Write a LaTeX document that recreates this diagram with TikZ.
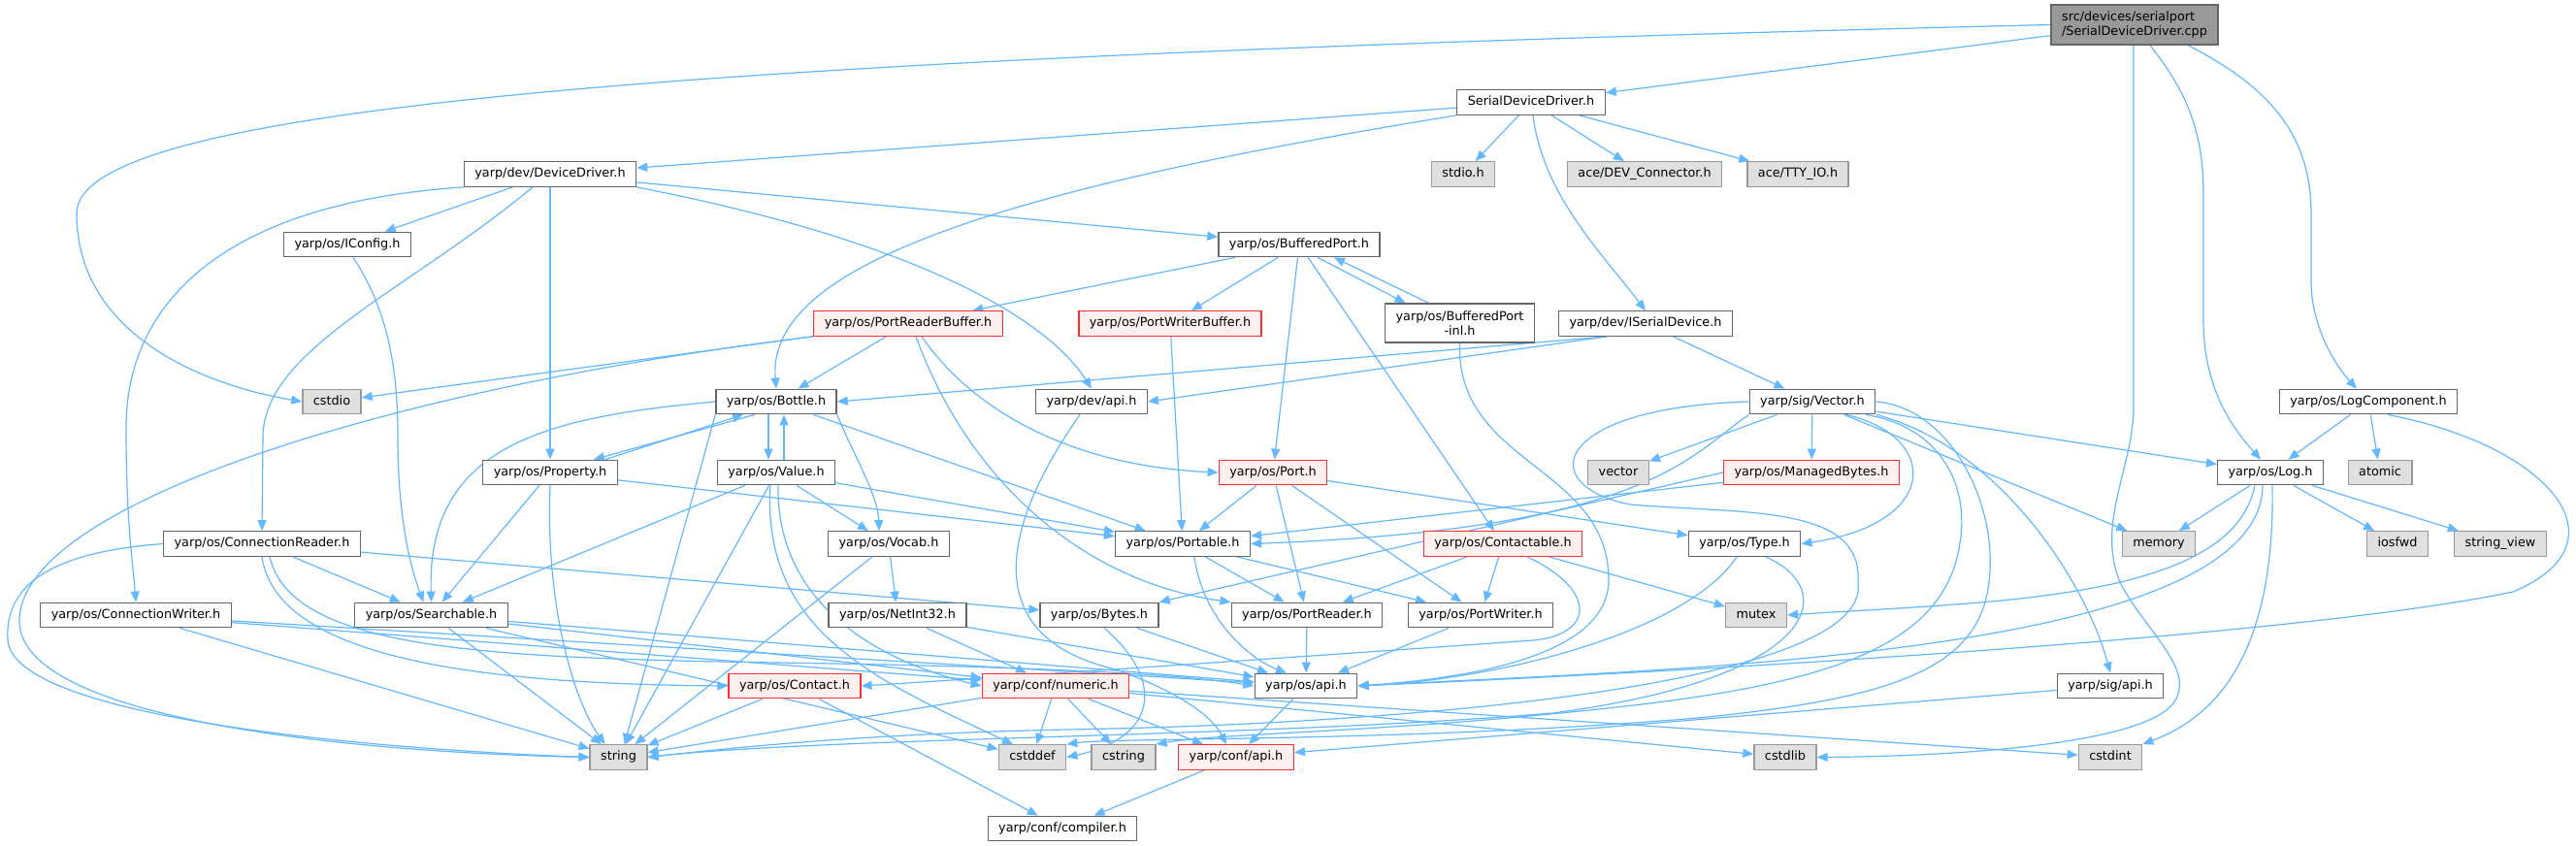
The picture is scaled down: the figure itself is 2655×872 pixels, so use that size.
\documentclass[tikz,border=0pt]{standalone}
\usepackage{fontspec}
\setmainfont{DejaVu Sans}
\usepackage{tikz}
\usetikzlibrary{arrows.meta}
\definecolor{kantenblau}{HTML}{63B8FF}
\definecolor{rahmengrau}{HTML}{666666}
\definecolor{extgrau}{HTML}{999999}
\definecolor{extfuell}{HTML}{E0E0E0}
\definecolor{rotrahmen}{HTML}{FF3030}
\definecolor{rotfuell}{HTML}{FFF0F0}
\pgfdeclarelayer{hinten}
\pgfsetlayers{hinten,main}

\begin{document}
\begin{tikzpicture}[x=1pt, y=-1pt,
    datei/.style={draw=rahmengrau, fill=white, line width=1.3pt, inner xsep=11pt, inner ysep=2pt,
                  minimum height=25.5pt, text height=9.7pt, text depth=3pt},
    systemdatei/.style={datei, draw=extgrau, fill=extfuell},
    abgeschnitten/.style={datei, draw=rotrahmen, fill=rotfuell},
    zweizeilig/.style={text height=, text depth=, minimum height=41pt},
    kante/.style={->, draw=kantenblau, line width=1.2pt},
    >={Triangle[length=11pt,width=9pt]}, %Pfeilspitzen
    font=\fontsize{12.8pt}{15pt}\selectfont]
    \useasboundingbox (0,0) rectangle (2655,872);
    % Knoten
    \node[datei, fill=black!40, zweizeilig, align=left] (cpp) at (2200,25.5) {src/devices/serialport\\/SerialDeviceDriver.cpp};
    \node[datei] (sdd) at (1578,105.5) {SerialDeviceDriver.h};
    \node[datei] (devdrv) at (567,179.5) {yarp/dev/DeviceDriver.h};
    \node[systemdatei] (stdio) at (1508,179.5) {stdio.h};
    \node[systemdatei] (devconn) at (1695,179.5) {ace/DEV\_Connector.h};
    \node[systemdatei] (ttyio) at (1853,179.5) {ace/TTY\_IO.h};
    \node[datei] (iconfig) at (358,252) {yarp/os/IConfig.h};
    \node[datei] (bufport) at (1339,252) {yarp/os/BufferedPort.h};
    \node[abgeschnitten] (prbuf) at (936,333.5) {yarp/os/PortReaderBuffer.h};
    \node[abgeschnitten] (pwbuf) at (1206,333.5) {yarp/os/PortWriterBuffer.h};
    \node[datei, zweizeilig, minimum height=40pt, align=center] (inl) at (1504.5,333) {yarp/os/BufferedPort\\-inl.h};
    \node[datei] (iserial) at (1696,333.5) {yarp/dev/ISerialDevice.h};
    \node[systemdatei] (cstdio) at (342,414) {cstdio};
    \node[datei] (bottle) at (800,414) {yarp/os/Bottle.h};
    \node[datei] (devapi) at (1125,414) {yarp/dev/api.h};
    \node[datei] (vector) at (1868,414) {yarp/sig/Vector.h};
    \node[datei] (logcomp) at (2441,414) {yarp/os/LogComponent.h};
    \node[datei] (property) at (567,487) {yarp/os/Property.h};
    \node[datei] (value) at (800,487) {yarp/os/Value.h};
    \node[abgeschnitten] (port) at (1312,487) {yarp/os/Port.h};
    \node[systemdatei] (stdvector) at (1668,487) {vector};
    \node[abgeschnitten] (mbytes) at (1867,487) {yarp/os/ManagedBytes.h};
    \node[datei] (log) at (2340,487) {yarp/os/Log.h};
    \node[systemdatei] (atomic) at (2453,487) {atomic};
    \node[datei] (connreader) at (270,560.5) {yarp/os/ConnectionReader.h};
    \node[datei] (vocab) at (916,560.5) {yarp/os/Vocab.h};
    \node[datei] (portable) at (1219,560.5) {yarp/os/Portable.h};
    \node[abgeschnitten] (contactable) at (1549,560.5) {yarp/os/Contactable.h};
    \node[datei] (type) at (1798,560.5) {yarp/os/Type.h};
    \node[systemdatei] (memory) at (2225,560.5) {memory};
    \node[systemdatei] (iosfwd) at (2471,560.5) {iosfwd};
    \node[systemdatei] (stringview) at (2577,560.5) {string\_view};
    \node[datei] (connwriter) at (140,634) {yarp/os/ConnectionWriter.h};
    \node[datei] (searchable) at (444.5,634) {yarp/os/Searchable.h};
    \node[datei] (netint) at (925,634) {yarp/os/NetInt32.h};
    \node[datei] (bytes) at (1133,634) {yarp/os/Bytes.h};
    \node[datei] (portreader) at (1347,634) {yarp/os/PortReader.h};
    \node[datei] (portwriter) at (1526,634) {yarp/os/PortWriter.h};
    \node[systemdatei] (mutex) at (1810,634) {mutex};
    \node[abgeschnitten] (contact) at (819,707) {yarp/os/Contact.h};
    \node[abgeschnitten] (numeric) at (1088,707) {yarp/conf/numeric.h};
    \node[datei] (osapi) at (1346,707) {yarp/os/api.h};
    \node[datei] (sigapi) at (2175,707) {yarp/sig/api.h};
    \node[systemdatei] (string) at (637.5,780.5) {string};
    \node[systemdatei] (cstddef) at (1064,780.5) {cstddef};
    \node[systemdatei] (cstring) at (1158,780.5) {cstring};
    \node[abgeschnitten] (confapi) at (1274,780.5) {yarp/conf/api.h};
    \node[systemdatei] (cstdlib) at (1840,780.5) {cstdlib};
    \node[systemdatei] (cstdint) at (2175,780.5) {cstdint};
    \node[datei] (compiler) at (1095,854) {yarp/conf/compiler.h};
    \begin{pgfonlayer}{hinten}
    \fill[white] (0,0) rectangle (2655,872);
    % gerade Kanten
    \foreach \von/\nach in {cpp/sdd, sdd/devdrv, sdd/stdio, sdd/devconn, sdd/ttyio,
        devdrv/iconfig, devdrv/property, devdrv/bufport,
        bufport/prbuf, bufport/pwbuf, bufport/port, bufport/contactable,
        prbuf/cstdio, prbuf/bottle, pwbuf/portable, iserial/vector, bottle/portable,
        property/searchable, property/portable, value/vocab, value/portable, value/searchable, value/string,
        vocab/netint, vocab/string, netint/numeric, netint/osapi,
        portable/portreader, portable/portwriter, port/portable, port/portreader, port/portwriter, port/type,
        mbytes/portable, contactable/portreader, contactable/portwriter, contactable/mutex,
        portreader/osapi, portwriter/osapi, bytes/osapi, connreader/searchable, connreader/bytes,
        connwriter/string, connwriter/numeric, connwriter/osapi,
        searchable/string, searchable/numeric, searchable/osapi, searchable/cstddef,
        contact/string, contact/compiler, numeric/string, numeric/cstddef, numeric/cstring,
        numeric/confapi, numeric/cstdlib, numeric/cstdint, osapi/confapi, confapi/compiler, sigapi/confapi,
        vector/stdvector, vector/mbytes, vector/log, vector/memory,
        logcomp/log, logcomp/atomic, log/memory, log/iosfwd, log/stringview}
        \draw[kante] (\von) -- (\nach);
    % versetzte Kanten
    \draw[kante] ([xshift=19pt]bufport.south) -- ([xshift=-56pt]inl.north);
    \draw[kante] ([xshift=-32pt]inl.north) -- ([xshift=36pt]bufport.south);
    \draw[kante] ([xshift=-22pt]bottle.south) -- ([xshift=45pt]property.north);
    \draw[kante] ([xshift=57pt]property.north) -- ([xshift=-34pt]bottle.south);
    \draw[kante] ([xshift=-8pt]bottle.south) -- ([xshift=-8pt]value.north);
    \draw[kante] ([xshift=8pt]value.north) -- ([xshift=8pt]bottle.south);
    \draw[kante] ([xshift=-40pt]iserial.south) -- (bottle.east);
    \draw[kante] ([xshift=-40pt]iserial.south) -- (devapi.east);
    \draw[kante] (bottle.south west) -- ([xshift=6pt]string.north);
    \draw[kante] (mbytes.west) -- (bytes.north east);
    % gebogene Kanten
    \draw[kante] (cpp.west) .. controls (700,60) and (79,110) .. (79,220) .. controls (79,340) and (200,395) .. (cstdio.west);
    \draw[kante] ([xshift=-1pt]cpp.south) -- (2199,420) .. controls (2199,480) and (2160,540) .. (2185,600)
        .. controls (2210,650) and (2265,690) .. (2240,725) .. controls (2200,775) and (1950,780) .. (cstdlib.east);
    \draw[kante] ([xshift=16pt]cpp.south) .. controls (2250,90) and (2271,130) .. (2271,200) -- (2271,330)
        .. controls (2271,400) and (2300,440) .. ([xshift=-10pt]log.north);
    \draw[kante] ([xshift=55pt]cpp.south) .. controls (2340,90) and (2382,140) .. (2382,220) -- (2382,290)
        .. controls (2382,340) and (2410,380) .. ([xshift=-12pt]logcomp.north);
    \draw[kante] (sdd.south west) .. controls (1000,200) and (790,280) .. (bottle.north);
    \draw[kante] ([xshift=2pt]sdd.south) .. controls (1590,200) and (1650,260) .. (iserial.north);
    \draw[kante] (devdrv.south west) .. controls (220,210) and (130,320) .. (130,440) .. controls (130,540) and (137,580) .. (connwriter.north);
    \draw[kante] ([xshift=-18pt]devdrv.south) .. controls (420,300) and (272,360) .. (271,450) -- (connreader.north);
    \draw[kante] (devdrv.south east) .. controls (950,250) and (1080,330) .. (devapi.north);
    \draw[kante] ([xshift=6pt]iconfig.south) .. controls (400,320) and (410,380) .. (410,450) .. controls (410,540) and (425,590) .. ([xshift=-8pt]searchable.north);
    \draw[kante] (inl.south) .. controls (1500,480) and (1660,480) .. (1658,600) .. controls (1655,680) and (1500,700) .. (osapi.east);
    \draw[kante] (prbuf.south west) .. controls (400,400) and (20,520) .. (20,640) .. controls (20,740) and (350,775) .. (string.west);
    \draw[kante] ([xshift=8pt]prbuf.south) .. controls (1000,500) and (1120,600) .. (portreader.north west);
    \draw[kante] ([xshift=14pt]prbuf.south) .. controls (1000,420) and (1100,480) .. (port.west);
    \draw[kante] ([xshift=-12pt]devapi.south) .. controls (1020,560) and (1020,660) .. (1150,690) .. controls (1220,715) and (1250,740) .. ([xshift=-10pt]confapi.north);
    \draw[kante] (bottle.west) .. controls (560,430) and (440,460) .. (searchable.north);
    \draw[kante] (bottle.south east) .. controls (880,470) and (905,510) .. ([xshift=-10pt]vocab.north);
    \draw[kante] (property.south) .. controls (562,620) and (590,720) .. ([xshift=-14pt]string.north);
    \draw[kante] ([xshift=-6pt]value.south) .. controls (785,650) and (900,700) .. ([xshift=-20pt]cstddef.north);
    \draw[kante] ([xshift=2pt]value.south) .. controls (800,620) and (900,680) .. (numeric.west);
    \draw[kante] (connreader.west) .. controls (40,570) and (5,610) .. (8,660) .. controls (15,740) and (380,772) .. (string.west);
    \draw[kante] (connreader.south) .. controls (285,680) and (500,705) .. (contact.west);
    \draw[kante] ([xshift=8pt]connreader.south) .. controls (300,670) and (500,678) .. (800,683) .. controls (1000,686) and (1200,692) .. (osapi.west);
    \draw[kante] ([xshift=25pt]contactable.south) .. controls (1650,610) and (1640,655) .. (1580,660) .. controls (1300,680) and (1000,700) .. (contact.east);
    \draw[kante] ([xshift=-8pt]type.south) .. controls (1740,650) and (1550,700) .. (osapi.east);
    \draw[kante] ([xshift=22pt]type.south) .. controls (1900,610) and (1870,700) .. (1600,735) .. controls (1300,760) and (850,760) .. (string.east);
    \draw[kante] ([xshift=5pt]bytes.south) .. controls (1200,700) and (1195,760) .. (cstddef.east);
    \draw[kante] ([xshift=12pt]portable.south) .. controls (1240,640) and (1290,680) .. ([xshift=-20pt]osapi.north);
    \draw[kante] (vector.south west) .. controls (1740,470) and (1700,545) .. (portable.east);
    \draw[kante] ([xshift=35pt]vector.south) .. controls (2000,450) and (2000,540) .. (type.east);
    \draw[kante] (vector.south east) .. controls (2060,460) and (2150,600) .. (sigapi.north);
    \draw[kante] (vector.west) .. controls (1600,420) and (1580,500) .. (1680,520) .. controls (1800,530) and (1920,520) .. (1915,600)
        .. controls (1930,700) and (1500,745) .. (1100,752) .. controls (900,756) and (760,770) .. (string.east);
    \draw[kante] ([xshift=55pt]vector.south) .. controls (2000,440) and (2030,500) .. (2020,560) .. controls (2005,660) and (1900,700) .. (1700,725)
        .. controls (1450,755) and (1260,755) .. (cstring.north east);
    \draw[kante] (vector.east) .. controls (2010,420) and (2060,520) .. (2050,600) .. controls (2040,690) and (1950,720) .. (1750,740)
        .. controls (1450,765) and (1150,760) .. (cstddef.north east);
    \draw[kante] ([xshift=-8pt]log.south) .. controls (2330,680) and (1700,690) .. (osapi.east);
    \draw[kante] ([xshift=-16pt]log.south) .. controls (2300,620) and (2050,620) .. (mutex.east);
    \draw[kante] ([xshift=2pt]log.south) .. controls (2345,680) and (2280,740) .. (cstdint.north east);
    \draw[kante] ([xshift=20pt]logcomp.south) .. controls (2630,460) and (2710,560) .. (2590,610) .. controls (2400,650) and (1900,685) .. (osapi.east);
    \end{pgfonlayer}
\end{tikzpicture}
\end{document}
